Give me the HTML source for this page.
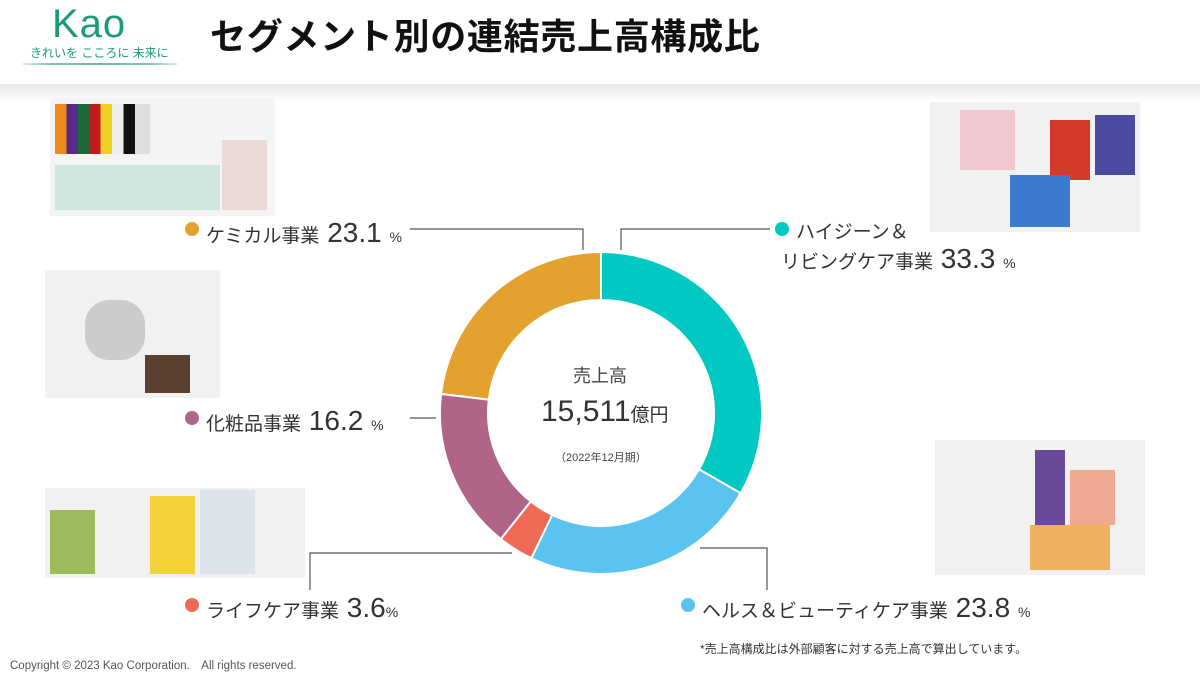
<!DOCTYPE html>
<html><head><meta charset="utf-8"><style>
body{margin:0;width:1200px;height:673px;overflow:hidden;background:#fff;font-family:"Liberation Sans","Noto Sans CJK JP",sans-serif;position:relative;color:#333}
.a{position:absolute;white-space:nowrap}
.hdr{position:absolute;left:0;top:0;width:1200px;height:84px;background:#fff}
.shadow{position:absolute;left:0;top:84px;width:1200px;height:18px;background:linear-gradient(#e8e8e8,#fff)}
.dot{position:absolute;width:14px;height:14px;border-radius:50%}
.lb{font-size:19px;color:#333}
.big{font-size:28px;color:#333}
.pc{font-size:14px}
.ph{position:absolute;background:#f1f1f1}
</style></head><body>
<div class="hdr"></div><div class="shadow"></div>
<div class="a" style="left:52px;top:2px;font-size:40px;color:#1a9a7a;letter-spacing:1px">Kao</div>
<div class="a" style="left:30px;top:44px;font-size:12px;color:#1a9a7a">きれいを こころに 未来に</div>
<div class="a" style="left:22px;top:63px;width:156px;height:2px;background:#6bbca8;border-radius:50%"></div>
<div class="a" style="left:210px;top:8px;font-size:36px;letter-spacing:0.7px;font-weight:bold;color:#111">セグメント別の連結売上高構成比</div>

<div class="ph" style="left:50px;top:98px;width:225px;height:118px;background:#f4f4f4"></div>
<div class="a" style="left:55px;top:104px;width:95px;height:50px;background:linear-gradient(90deg,#f08a1a 0 12%,#5a2a8a 12% 24%,#1a6a3a 24% 36%,#c01a1a 36% 48%,#f0d020 48% 60%,#eee 60% 72%,#111 72% 84%,#ddd 84%)"></div>
<div class="a" style="left:55px;top:165px;width:165px;height:45px;background:#cfe6df"></div>
<div class="a" style="left:222px;top:140px;width:45px;height:70px;background:#e9dad6"></div>
<div class="ph" style="left:45px;top:270px;width:175px;height:128px"></div>
<div class="a" style="left:85px;top:300px;width:60px;height:60px;background:#ccc;border-radius:40%"></div>
<div class="a" style="left:145px;top:355px;width:45px;height:38px;background:#5a4030"></div>
<div class="ph" style="left:45px;top:488px;width:260px;height:90px"></div>
<div class="a" style="left:150px;top:496px;width:45px;height:78px;background:#f4d23a"></div>
<div class="a" style="left:200px;top:490px;width:55px;height:84px;background:#dde3ea"></div>
<div class="a" style="left:50px;top:510px;width:45px;height:64px;background:#9cbb5a"></div>
<div class="ph" style="left:930px;top:102px;width:210px;height:130px"></div>
<div class="a" style="left:960px;top:110px;width:55px;height:60px;background:#f2c8d0"></div>
<div class="a" style="left:1050px;top:120px;width:40px;height:60px;background:#d33a2a"></div>
<div class="a" style="left:1095px;top:115px;width:40px;height:60px;background:#4a4aa0"></div>
<div class="a" style="left:1010px;top:175px;width:60px;height:52px;background:#3a7ad0"></div>
<div class="ph" style="left:935px;top:440px;width:210px;height:135px"></div>
<div class="a" style="left:1035px;top:450px;width:30px;height:75px;background:#6a4a9a"></div>
<div class="a" style="left:1070px;top:470px;width:45px;height:55px;background:#f0a890"></div>
<div class="a" style="left:1030px;top:525px;width:80px;height:45px;background:#f0b060"></div>

<svg class="a" style="left:0;top:0" width="1200" height="673">
<g stroke="#fff" stroke-width="2">
<path fill="#00c9c3" d="M601,252 A161,161 0 0 1 740.6,493.3 L699,469.3 A113,113 0 0 0 601,300 Z"/>
<path fill="#5ac3ef" d="M740.6,493.3 A161,161 0 0 1 531.4,558.2 L552.2,514.9 A113,113 0 0 0 699,469.3 Z"/>
<path fill="#ee6a55" d="M531.4,558.2 A161,161 0 0 1 500.8,539 L530.7,501.4 A113,113 0 0 0 552.2,514.9 Z"/>
<path fill="#b06487" d="M500.8,539 A161,161 0 0 1 441.1,393.9 L488.8,399.6 A113,113 0 0 0 530.7,501.4 Z"/>
<path fill="#e3a230" d="M441.1,393.9 A161,161 0 0 1 601,252 L601,300 A113,113 0 0 0 488.8,399.6 Z"/>
</g>
<g stroke="#555" stroke-width="1.2" fill="none">
<polyline points="410,229 583,229 583,250"/>
<polyline points="770,229 621,229 621,250"/>
<line x1="410" y1="418" x2="436" y2="418"/>
<polyline points="310,590 310,553 512,553"/>
<polyline points="700,548 767,548 767,590"/>
</g>
</svg>

<div class="a" style="left:573px;top:362px;font-size:18px;color:#444">売上高</div>
<div class="a" style="left:541px;top:395px;font-size:30px;color:#333">15,511<span style="font-size:19px">億円</span></div>
<div class="a" style="left:555px;top:449px;font-size:11px;color:#444">（2022年12月期）</div>

<div class="dot" style="left:185px;top:222px;background:#e3a230"></div>
<div class="a lb" style="left:206px;top:217px">ケミカル事業<span class="big"> 23.1 </span><span class="pc">%</span></div>
<div class="dot" style="left:775px;top:222px;background:#00c9c3"></div>
<div class="a lb" style="left:796px;top:217px">ハイジーン＆</div>
<div class="a lb" style="left:781px;top:243px">リビングケア事業<span class="big"> 33.3 </span><span class="pc">%</span></div>
<div class="dot" style="left:185px;top:411px;background:#b06487"></div>
<div class="a lb" style="left:206px;top:405px">化粧品事業<span class="big"> 16.2 </span><span class="pc">%</span></div>
<div class="dot" style="left:185px;top:598px;background:#ee6a55"></div>
<div class="a lb" style="left:206px;top:592px">ライフケア事業<span class="big"> 3.6</span><span class="pc">%</span></div>
<div class="dot" style="left:681px;top:598px;background:#5ac3ef"></div>
<div class="a lb" style="left:702px;top:592px">ヘルス＆ビューティケア事業<span class="big"> 23.8 </span><span class="pc">%</span></div>

<div class="a" style="left:700px;top:640px;font-size:12px;color:#333">*売上高構成比は外部顧客に対する売上高で算出しています。</div>
<div class="a" style="left:10px;top:657px;font-size:11.5px;color:#555">Copyright © 2023 Kao Corporation.　All  rights  reserved.</div>
</body></html>
